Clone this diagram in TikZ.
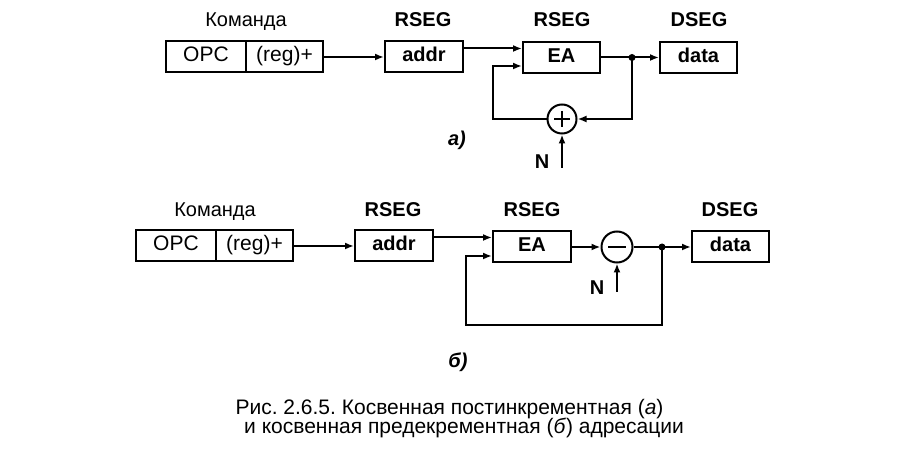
\documentclass[tikz,border=0pt]{standalone}
\usepackage{fontspec}
\setmainfont{Liberation Sans}
\usetikzlibrary{arrows.meta}
\frenchspacing
\begin{document}
\begin{tikzpicture}[x=1pt,y=-1pt,
  line width=2pt,
  >={Latex[length=9pt,width=7pt]},
  box/.style={draw, minimum width=78pt, minimum height=31pt, inner sep=0pt, text height=14pt, text depth=4pt, font=\fontsize{20}{23}\selectfont\bfseries},
  cbox/.style={draw, outer sep=0pt, minimum height=31pt, inner sep=0pt, text height=14pt, text depth=4pt, font=\fontsize{21}{24}\selectfont},
  lbl/.style={anchor=base, inner sep=0pt, font=\fontsize{20}{23}\selectfont},
  blbl/.style={anchor=base, inner sep=0pt, font=\fontsize{20}{23}\selectfont\bfseries},
  sublbl/.style={inner sep=0pt, font=\fontsize{20}{23}\selectfont\bfseries\itshape},
  opnode/.style={circle, draw, minimum size=29pt, inner sep=0pt},
  caption/.style={anchor=base, inner sep=0pt, font=\fontsize{21}{24}\selectfont},
  dot/.style={circle, fill, minimum size=7pt, inner sep=0pt}
]
\useasboundingbox (0,0) rectangle (916,454);

% ---------- a) ----------
\node[lbl] (kA) at (246,27) {Команда};
\node[blbl] (r1A) at (423,27) {RSEG};
\node[blbl] (r2A) at (562,27) {RSEG};
\node[blbl] (dsA) at (699,27) {DSEG};

\node[cbox, minimum width=80pt] (opcA) at (206,57) {OPC};
\node[cbox, minimum width=77pt, anchor=west] (regA) at (opcA.east) {(reg)+};
\node[box] (addrA) at (424,57) {addr};
\node[box, minimum width=77pt] (eaA) at (561.5,57.5) {EA};
\node[box, minimum width=77pt] (dataA) at (698.5,57.5) {data};
\node[opnode] (sumA) at (562,119) {};
\draw (sumA.center) +(-8,0) -- +(8,0);
\draw (sumA.center) +(0,-8) -- +(0,8);
\node[dot] (jA) at (632,57.5) {};
\coordinate (fbA) at (493,119);
\coordinate (nA) at (562,168);

\draw[->] (regA.east) -- (addrA.west);
\draw[->] ([yshift=8.5pt]addrA.east) -- ([yshift=8.5pt]addrA.east -| eaA.west);
\draw[->] (eaA.east) -- (dataA.west);
\draw[->] (jA.center) |- (sumA.east);
\draw[->] (sumA.west) -- (fbA) |- ([yshift=-8.5pt]eaA.west);
\draw[->] (nA) -- (sumA.south);
\node[blbl] (NA) at (542,169) {N};
\node[sublbl] (labA) at (457,140) {а)};

% ---------- b) ----------
\node[lbl] (kB) at (215,217) {Команда};
\node[blbl] (r1B) at (393,217) {RSEG};
\node[blbl] (r2B) at (532,217) {RSEG};
\node[blbl] (dsB) at (730,217) {DSEG};

\node[cbox, minimum width=80pt] (opcB) at (176,246) {OPC};
\node[cbox, minimum width=77pt, anchor=west] (regB) at (opcB.east) {(reg)+};
\node[box] (addrB) at (394,246) {addr};
\node[box] (eaB) at (532,247) {EA};
\node[box, minimum width=77pt] (dataB) at (730.5,247) {data};
\node[opnode, minimum size=31pt] (subB) at (617,247) {};
\draw (subB.center) +(-9,0) -- +(9,0);
\node[dot] (jB) at (662,247) {};
\coordinate (fbB1) at (662,325);
\coordinate (fbB2) at (466,325);
\coordinate (nB) at (617,292);

\draw[->] (regB.east) -- (addrB.west);
\draw[->] ([yshift=8.5pt]addrB.east) -- ([yshift=8.5pt]addrB.east -| eaB.west);
\draw[->] (eaB.east) -- (subB.west);
\draw[->] (subB.east) -- (dataB.west);
\draw[->] (jB.center) -- (fbB1) -- (fbB2) |- ([yshift=-9pt]eaB.west);
\draw[->] (nB) -- (subB.south);
\node[blbl] (NB) at (597,294.5) {N};
\node[sublbl] (labB) at (458,362) {б)};

% ---------- caption ----------
\node[caption] (cap1) at (449.5,414) {Рис. 2.6.5. Косвенная постинкрементная (\textit{а})};
\node[caption] (cap2) at (464,433) {и косвенная предекрементная (\textit{б}) адресации};
\end{tikzpicture}
\end{document}
